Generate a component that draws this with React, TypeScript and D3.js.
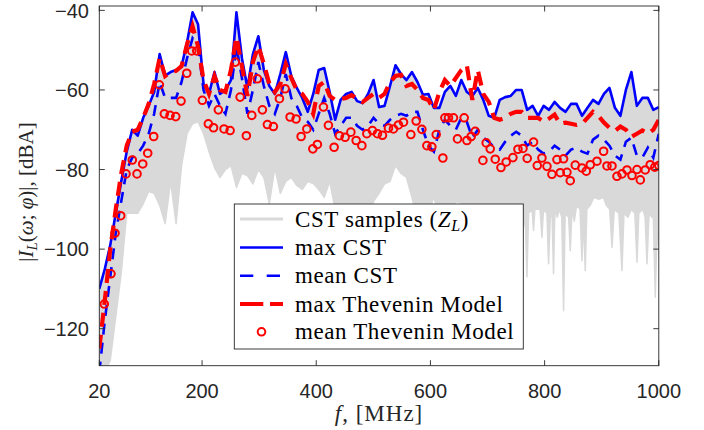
import React from 'react';
import * as d3 from 'd3';

// frequency grid of the CST / Thevenin sweeps (MHz), 103 points 20..1000
const freqMHz: number[] = d3.range(103).map((i) => 20 + (i * 980) / 102);

const maxCST = [
  -110, -105, -99, -91, -83, -75.5, -70, -71.5, -67, -64,
  -60.5, -51, -56.4, -55.5, -55, -54, -48, -40.5, -43.5, -58.5,
  -61, -55.5, -61, -60, -57.5, -40.5, -52, -59.5, -51, -46.5,
  -55, -59, -61, -56, -50.5, -56.5, -59.5, -62, -65.5, -61,
  -55, -54.5, -60.5, -67.5, -62.5, -61, -60.5, -62.8, -63.3, -61,
  -57.5, -64.3, -64, -59, -53.8, -56, -57.5, -55.5, -58, -61.2,
  -61, -64.5, -64.5, -60.5, -59, -61.5, -57.5, -60.5, -61.5, -59.5,
  -62.5, -66.5, -67, -62.5, -61.8, -61.5, -60, -60, -65, -64,
  -66.5, -64, -65, -63, -64.5, -65.5, -63.5, -63.5, -66.5, -64.5,
  -62.5, -63.5, -61, -59.5, -64.5, -66.5, -60, -55.5, -64, -62,
  -62, -65, -64.3,
];

const meanCST = [
  -131, -118, -107, -96, -88, -80, -77, -76, -74, -71,
  -66, -58, -62, -62, -62, -58, -52, -47, -49, -60,
  -64, -61, -64, -66, -60, -49, -57, -66, -60, -53,
  -59, -64, -66, -62, -56, -62, -64, -67, -68, -70,
  -66, -62, -66, -71, -69, -67, -67, -69, -70, -69,
  -67, -68.5, -69, -67.5, -66.5, -66, -66.5, -65.5, -65.5, -70,
  -74, -75.5, -70, -67.5, -69, -70, -67, -68, -72, -70,
  -72, -73, -74.5, -75, -73, -71.5, -70.5, -71.5, -74, -73,
  -75, -76, -75.5, -74, -75, -76.5, -75, -74.5, -75.5, -76,
  -72.5, -71.5, -72.5, -74, -76.5, -77.5, -73, -72, -76.5, -77,
  -74.5, -77, -71,
];

const maxThevenin = [
  -125, -113, -100, -90, -81, -74, -70.5, -70, -67, -63.5,
  -58.5, -52, -56.5, -55.5, -55.2, -54, -48.5, -44, -49, -57.5,
  -61, -56.5, -60, -60.5, -55, -46.7, -54, -61.5, -53, -49,
  -53.5, -58.5, -60.5, -58.5, -53.5, -57, -60, -61, -63, -66,
  -59, -58, -61.5, -62.5, -62.3, -62, -61.3, -62.2, -63, -62,
  -61, -62, -61, -58, -56.5, -56.2, -59, -58.5, -60, -62,
  -62.5, -65, -60.5, -57.5, -59, -57, -55, -53.8, -62.5, -55,
  -61, -63, -67, -67.5, -67, -66, -65.5, -65.5, -67, -67,
  -67, -68, -67.2, -66.2, -68.5, -68.2, -68.5, -68.8, -68.5, -67,
  -65.5, -66.5, -68.2, -69.5, -70.3, -69.2, -70, -71.8, -71, -70.2,
  -71, -70, -67.5,
];

// lower envelope of the grey CST sample curves, first 78 grid points (20..760 MHz)
const samplesLower = [
  -131, -131, -128, -117, -106, -91, -91, -91, -88.6, -85.5,
  -86, -89, -93.6, -83, -93.6, -79, -71, -68.5, -68, -71,
  -75.5, -79.5, -82, -80, -79, -84.5, -81, -81.5, -83.6, -80,
  -82, -88.6, -79.5, -86, -83, -82, -84, -85, -83, -83.5,
  -85, -87, -83, -90, -92, -95, -93, -96, -94, -95,
  -88, -86, -83.6, -83, -79, -81, -82, -87, -93, -95,
  -92, -86.5, -94, -96, -93, -88, -88.5, -95, -97, -94,
  -98, -95, -97, -96, -99, -97, -100, -102,
];
// lower envelope above 760 MHz: narrow spikes of single samples
const samplesTailFreq = [
  762, 766, 769, 772, 778, 780.6, 783, 792, 795.3, 798,
  804, 806.9, 810, 813, 815.6, 818, 822, 826, 830, 833.2,
  836, 842, 844.9, 848, 852, 856, 862, 865.4, 868, 871.2,
  874, 880, 886, 895, 903, 908, 914, 918, 922, 930,
  935.5, 939, 946, 952, 958, 961.8, 965, 972, 976, 979.3,
  983, 988, 990, 993.8, 997, 1000,
];
const samplesTail = [
  -95, -92, -107, -91, -90, -95.3, -90, -90, -97, -90,
  -91, -103.7, -92, -91, -106.2, -90, -92, -90, -92, -115.5,
  -91, -92, -100.4, -90, -93, -89, -90, -102.9, -92, -105.4,
  -90, -89, -87, -87.5, -87, -89, -90, -99.6, -90, -91,
  -105.4, -91, -92, -90, -91, -103.3, -91, -90, -92, -103.7,
  -91, -92, -90, -112.1, -95, -100,
];

// mean Thevenin model (markers), own frequency points (MHz)
const theveninFreq = [
  28.8, 40.5, 47.5, 57.5, 66.8, 77.8, 86.1, 96.1, 104.8, 115.3,
  125.2, 133.9, 143.9, 153.9, 163.2, 173.2, 181.9, 190.7, 200.5, 211,
  220.1, 228.5, 238.5, 249.1, 258.3, 266.6, 277.6, 287.1, 296.9, 305.7,
  314.4, 324.9, 335.5, 345.4, 354.2, 364.7, 373.5, 383.5, 394, 402,
  412.6, 421.3, 431.3, 440.6, 450.6, 460.6, 469.9, 479.9, 488.6, 498.4,
  507.2, 516, 526.5, 535.2, 544, 552.8, 565.7, 575, 585, 593.8,
  602.5, 610.1, 621.8, 625.3, 631.6, 640.4, 647.4, 659.1, 663.9, 671.4,
  678.4, 691.9, 697.7, 704.7, 713.5, 723.5, 732.7, 744.5, 753.3, 762.1,
  769.5, 780.6, 787.1, 795.3, 804.1, 812.8, 821.6, 827.4, 833.2, 839.1,
  844.9, 853.7, 865.4, 873, 880, 891.7, 903.3, 909.2, 918, 926.7,
  935.5, 944.3, 953, 961.8, 967.6, 976.3, 985, 993, 1000,
];
const meanThevenin = [
  -113.8, -106.2, -96, -91.6, -81.1, -77.6, -81.1, -78.6, -75.9, -71.7,
  -58.7, -66, -66.4, -66.7, -62.8, -55.8, -50.2, -50.2, -62.6, -68.5,
  -69.5, -65, -69.8, -70.2, -53, -61.8, -71.5, -66.4, -57.2, -65,
  -68.7, -69.2, -62.2, -59.7, -66.8, -67.3, -71.7, -69.8, -74.8, -73.7,
  -64.3, -68.9, -74.4, -71.5, -71.9, -70.6, -72.7, -74, -71, -70.2,
  -71, -71.4, -69.6, -69.8, -68.8, -68.1, -71.2, -67.8, -69.9, -74,
  -74.3, -71.2, -77.1, -67, -67, -67, -72.3, -67, -72.7, -71.7,
  -70.4, -77.7, -73.3, -74.8, -77.4, -79.5, -78.1, -77, -74.9, -74.7,
  -77.2, -73.1, -79, -77.1, -79.2, -81.2, -77.5, -80.8, -77.3, -80.7,
  -82.8, -78.9, -79.6, -80.4, -78.8, -77.9, -75.4, -79.1, -79.1, -81.7,
  -81.1, -80.1, -81.5, -80, -82.6, -80.1, -78.8, -79.4, -79,
];

const xTicks = [20, 200, 400, 600, 800, 1000];
const yTicks = [-40, -60, -80, -100, -120];

const AX = '#262626';
const BLUE = '#0000ff';
const RED = '#ff0000';
const GREY = '#d9d9d9';

export default function App() {
  const left = 99.3, right = 658.8, top = 6, bottom = 365.7;
  const x = d3.scaleLinear().domain([20, 1000]).range([left, right]);
  const y = d3.scaleLinear().domain([-129.3, -38.9]).range([bottom, top]);

  const idx = freqMHz.map((_, i) => i);
  const lineOf = (arr: number[]) =>
    d3
      .line<number>()
      .x((i) => x(freqMHz[i]))
      .y((i) => y(arr[i]))(idx) as string;

  // grey band polygon: upper = max CST, lower = sample envelope (reversed)
  const upperPts: [number, number][] = freqMHz.map((f, i) => [f, maxCST[i]]);
  const lowerPts: [number, number][] = [
    ...samplesLower.map((v, i) => [freqMHz[i], v] as [number, number]),
    ...samplesTailFreq.map((f, i) => [f, samplesTail[i]] as [number, number]),
  ];
  const bandPts = [...upperPts, ...lowerPts.slice().reverse()];
  const band =
    (d3
      .line<[number, number]>()
      .x((d) => x(d[0]))
      .y((d) => y(d[1]))(bandPts) as string) + 'Z';

  const tick = 5.5;
  const sans = '"Liberation Sans", Arial, sans-serif';
  const serif = '"Liberation Serif", "Times New Roman", serif';
  const fmt = (v: number) => (v < 0 ? '\u2212' + Math.abs(v) : String(v));

  const legY = [219, 247.5, 275.8, 304, 331.8];
  const lx1 = 240, lx2 = 283, tx = 295;

  return (
    <div style={{ position: 'fixed', left: 0, top: 0 }}>
      <svg width={704} height={430} viewBox="0 0 704 430" style={{ display: 'block', background: '#fff' }}>
        <defs>
          <clipPath id="plotClip">
            <rect x={left} y={top} width={right - left} height={bottom - top} />
          </clipPath>
        </defs>

        <g clipPath="url(#plotClip)">
          <path d={band} fill={GREY} stroke={GREY} strokeWidth={1.5} strokeLinejoin="round" />
          <path d={lineOf(maxCST)} fill="none" stroke={BLUE} strokeWidth={2.6} strokeLinejoin="round" />
          <path d={lineOf(meanCST)} fill="none" stroke={BLUE} strokeWidth={2.6} strokeDasharray="11,8" />
          <path d={lineOf(maxThevenin)} fill="none" stroke={RED} strokeWidth={4.2} strokeDasharray="14,8" />
          {theveninFreq.map((f, i) => (
            <circle key={i} cx={x(f)} cy={y(meanThevenin[i])} r={3.8} fill="none" stroke={RED} strokeWidth={2} />
          ))}
        </g>

        {/* axes box */}
        <rect x={left} y={top} width={right - left} height={bottom - top} fill="none" stroke={AX} strokeWidth={0.9} />
        {xTicks.map((t) => (
          <g key={'xt' + t}>
            <line x1={x(t)} x2={x(t)} y1={bottom} y2={bottom - tick} stroke={AX} strokeWidth={0.9} />
            <line x1={x(t)} x2={x(t)} y1={top} y2={top + tick} stroke={AX} strokeWidth={0.9} />
            <text x={x(t)} y={398} textAnchor="middle" fontFamily={sans} fontSize={20} fill={AX}>
              {fmt(t)}
            </text>
          </g>
        ))}
        {yTicks.map((t) => (
          <g key={'yt' + t}>
            <line x1={left} x2={left + tick} y1={y(t)} y2={y(t)} stroke={AX} strokeWidth={0.9} />
            <line x1={right} x2={right - tick} y1={y(t)} y2={y(t)} stroke={AX} strokeWidth={0.9} />
            <text x={89} y={y(t)} dy="0.36em" textAnchor="end" fontFamily={sans} fontSize={20} fill={AX}>
              {fmt(t)}
            </text>
          </g>
        ))}

        {/* axis labels */}
        <text x={(left + right) / 2} y={421} textAnchor="middle" fontFamily={serif} fontSize={23} letterSpacing={1} fill={AX}>
          <tspan fontStyle="italic">f</tspan>, [MHz]
        </text>
        <text
          transform="translate(33,192) rotate(-90)"
          textAnchor="middle"
          fontFamily={serif}
          fontSize={21}
          fill={AX}
        >
          |<tspan fontStyle="italic">I</tspan>
          <tspan fontStyle="italic" fontSize={15} dy={4}>L</tspan>
          <tspan dy={-4}>(</tspan>
          <tspan fontStyle="italic">ω</tspan>; <tspan fontStyle="italic">φ</tspan>)|, [dBA]
        </text>

        {/* legend */}
        <rect x={234.3} y={204} width={289} height={145} fill="#fff" stroke={AX} strokeWidth={0.9} />
        <line x1={lx1} x2={lx2} y1={legY[0]} y2={legY[0]} stroke={GREY} strokeWidth={3} />
        <line x1={lx1} x2={lx2} y1={legY[1]} y2={legY[1]} stroke={BLUE} strokeWidth={2.6} />
        <line x1={lx1} x2={lx2} y1={legY[2]} y2={legY[2]} stroke={BLUE} strokeWidth={2.6} strokeDasharray="13.3,13.4" />
        <line x1={lx1} x2={lx2} y1={legY[3]} y2={legY[3]} stroke={RED} strokeWidth={4.2} strokeDasharray="23.3,6.7" />
        <circle cx={(lx1 + lx2) / 2} cy={legY[4]} r={3.8} fill="none" stroke={RED} strokeWidth={2} />
        <g fontFamily={serif} fontSize={23} letterSpacing={0.6} fill="#000">
          <text x={tx} y={legY[0] + 7.5}>
            CST samples (<tspan fontStyle="italic">Z</tspan>
            <tspan fontStyle="italic" fontSize={16} dy={4}>L</tspan>
            <tspan dy={-4}>)</tspan>
          </text>
          <text x={tx} y={legY[1] + 7.5}>max CST</text>
          <text x={tx} y={legY[2] + 7.5}>mean CST</text>
          <text x={tx} y={legY[3] + 7.5}>max Thevenin Model</text>
          <text x={tx} y={legY[4] + 7.5}>mean Thevenin Model</text>
        </g>
      </svg>
    </div>
  );
}
